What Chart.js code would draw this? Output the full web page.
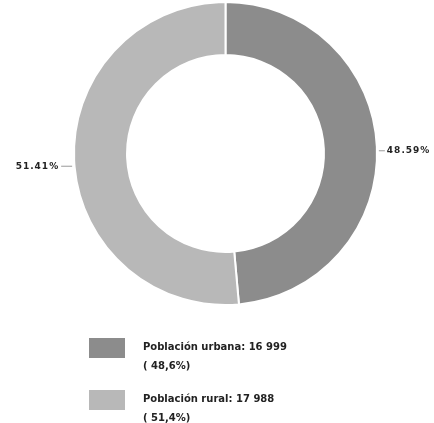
<!DOCTYPE html>
<html>
<head>
<meta charset="utf-8">
<script src="https://cdn.jsdelivr.net/npm/chart.js@4/dist/chart.umd.min.js"></script>
<style>
    html, body { margin: 0; padding: 0; background: #fff; }
    #wrap { width: 434px; height: 423px; }
</style>
</head>
<body>
<div id="wrap"><canvas id="chart" width="434" height="423"></canvas></div>
<script>
// datos: población urbana / rural
const categories = ['Población urbana', 'Población rural'];
const values = [16999, 17988];
const legendValues = ['16 999', '17 988'];
const legendPercents = ['( 48,6%)', '( 51,4%)'];
const colors = ['#8c8c8c', '#b8b8b8'];

const total = values.reduce((a, b) => a + b, 0);

// etiquetas de porcentaje con línea guía
const sliceLabels = {
    id: 'sliceLabels',
    afterDatasetsDraw(chart) {
        const ctx = chart.ctx;
        const meta = chart.getDatasetMeta(0);
        ctx.save();
        ctx.font = 'bold 9px "DejaVu Sans"';
        ctx.letterSpacing = '1px';
        ctx.fillStyle = '#222';
        ctx.strokeStyle = '#999';
        ctx.lineWidth = 1;
        ctx.textBaseline = 'middle';
        meta.data.forEach((arc, i) => {
            const mid = (arc.startAngle + arc.endAngle) / 2;
            const x0 = arc.x + Math.cos(mid) * arc.outerRadius;
            const y = arc.y + Math.sin(mid) * arc.outerRadius + (i === 1 ? 6 : 4);
            const right = Math.cos(mid) >= 0;
            const len = right ? 8 : 13;
            const x1 = right ? x0 + len : x0 - len;
            ctx.beginPath();
            ctx.moveTo(x0 + (right ? 2 : -2), y);
            ctx.lineTo(x1, y);
            ctx.stroke();
            const txt = (values[i] / total * 100).toFixed(2) + '%';
            ctx.textAlign = right ? 'left' : 'right';
            ctx.fillText(txt, right ? x1 + 2 : x1 - 2, y);
        });
        ctx.restore();
    }
};

// leyenda propia debajo del gráfico
const customLegend = {
    id: 'customLegend',
    afterDraw(chart) {
        const ctx = chart.ctx;
        ctx.save();
        categories.forEach((cat, i) => {
            const top = 338 + i * 52;
            ctx.fillStyle = colors[i];
            ctx.fillRect(89, top, 36, 20);
            ctx.fillStyle = '#222';
            ctx.font = 'bold 10px "DejaVu Sans"';
            ctx.textAlign = 'left';
            ctx.textBaseline = 'middle';
            ctx.fillText(cat + ': ' + legendValues[i], 143, top + 9);
            ctx.fillText(legendPercents[i], 143, top + 28);
        });
        ctx.restore();
    }
};

new Chart(document.getElementById('chart').getContext('2d'), {
    type: 'doughnut',
    data: {
        labels: categories,
        datasets: [{
            data: values,
            backgroundColor: colors,
            borderColor: '#fff',
            borderWidth: 2,
        }],
    },
    options: {
        responsive: false,
        animation: false,
        cutout: '65%',
        layout: {
            padding: { left: 73, right: 56, top: 1, bottom: 117 },
        },
        plugins: {
            legend: { display: false },
            tooltip: { enabled: false },
        },
    },
    plugins: [sliceLabels, customLegend],
});
</script>
</body>
</html>
